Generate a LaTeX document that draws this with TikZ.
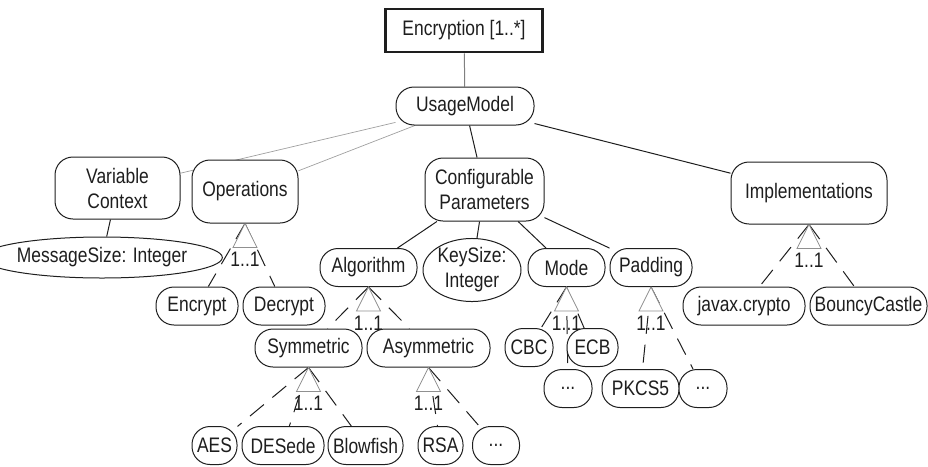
\documentclass[tikz,border=0pt]{standalone}
\usepackage{fontspec}
\setmainfont{Liberation Sans}[FakeStretch=0.83]
\usetikzlibrary{shapes.geometric}
\pgfdeclarelayer{bg}
\pgfsetlayers{bg,main}
\definecolor{ink}{HTML}{1E1E1E}
\definecolor{softline}{HTML}{A0A0A0}
\definecolor{triline}{HTML}{909090}
\begin{document}
\begin{tikzpicture}[x=1pt,y=-1pt,
  every node/.style={font=\fontsize{21}{25}\selectfont, text=ink},
  feat/.style={draw=ink, line width=1pt, fill=white, rounded corners=18pt,
    inner sep=0pt, minimum height=38pt, align=center},
  attr/.style={draw=ink, line width=1pt, fill=white, ellipse, inner sep=0pt, align=center},
  root/.style={draw=ink, line width=2.8pt, fill=white, inner sep=0pt,
    minimum width=157pt, minimum height=43pt},
  link/.style={draw=ink, line width=1pt},
  soft/.style={draw=softline, line width=0.7pt},
  alt/.style={draw=ink, line width=1pt, dash pattern=on 18pt off 11pt},
  tri/.style={draw=triline, line width=0.7pt, fill=white},
  card/.style={inner sep=0pt}
]
\useasboundingbox (0,0) rectangle (928,466);

% root and first level
\node[root] (enc) at (464,30.5) {Encryption [1..*]};
\node[feat, minimum width=138pt] (usage) at (465,106) {UsageModel};
\node[feat, minimum width=125pt, minimum height=62pt] (varctx) at (117.5,188) {Variable\\Context};
\node[feat, minimum width=106pt, minimum height=63pt] (ops) at (245,191.5) {Operations};
\node[feat, minimum width=119pt, minimum height=63pt] (conf) at (484.5,189.5) {Configurable\\Parameters};
\node[feat, minimum width=156pt, minimum height=62pt] (impl) at (809,193) {Implementations};

% second level
\node[attr, minimum width=190pt, minimum height=41pt] (msg) at (102,257.5) {MessageSize: Integer};
\node[feat, minimum width=97pt] (algo) at (368.5,267.5) {Algorithm};
\node[attr, minimum width=98pt, minimum height=55pt] (keysize) at (472,270) {KeySize:\\Integer};
\node[feat, minimum width=77pt] (mode) at (566.5,267.5) {Mode};
\node[feat, minimum width=82pt] (pad) at (651,267.5) {Padding};

% leaves and sub-features
\node[feat, minimum width=82pt] (encr) at (197,306) {Encrypt};
\node[feat, minimum width=82pt] (decr) at (284,306) {Decrypt};
\node[feat, minimum width=122pt] (javax) at (744,306) {javax.crypto};
\node[feat, minimum width=117pt] (bouncy) at (868.5,306) {BouncyCastle};
\node[feat, minimum width=107pt] (sym) at (308.5,348) {Symmetric};
\node[feat, minimum width=123pt] (asym) at (428.5,348) {Asymmetric};
\node[feat, minimum width=48pt] (cbc) at (529,347.5) {CBC};
\node[feat, minimum width=51pt] (ecb) at (592.5,347.5) {ECB};
\node[feat, minimum width=48pt] (modemore) at (568,388.5) {...};
\node[feat, minimum width=77pt] (pkcs) at (640.5,388.5) {PKCS5};
\node[feat, minimum width=48pt] (padmore) at (703,388.5) {...};
\node[feat, minimum width=45pt] (aes) at (214.5,445.5) {AES};
\node[feat, minimum width=82pt] (desede) at (283,445.5) {DESede};
\node[feat, minimum width=75pt] (blow) at (365.5,445.5) {Blowfish};
\node[feat, minimum width=45pt] (rsa) at (440.5,445.5) {RSA};
\node[feat, minimum width=47pt] (asymmore) at (496,445.5) {...};

\begin{pgfonlayer}{bg}
  \draw[link, draw=gray] (enc) -- (usage);
  \draw[soft] (usage) -- (varctx);
  \draw[soft] (usage) -- (ops);
  \draw[link] (usage) -- (conf);
  \draw[link] (usage) -- (impl);
  \draw[link] (varctx) -- (msg);
  \draw[link] (conf) -- (algo);
  \draw[link] (conf) -- (keysize);
  \draw[link] (conf) -- (mode);
  \draw[link] (conf) -- (pad);
  % alternative groups
  \draw[alt] (ops.south) -- (encr);
  \draw[alt] (ops.south) -- (decr);
  \draw[alt] (impl.south) -- (javax);
  \draw[alt] (impl.south) -- (bouncy);
  \draw[alt] (algo.south) -- (sym);
  \draw[alt] (algo.south) -- (asym);
  \draw[alt] (mode.south) -- (cbc);
  \draw[alt] (mode.south) -- (ecb);
  \draw[alt] (mode.south) -- (modemore);
  \draw[alt] (pad.south) -- (pkcs);
  \draw[alt] (pad.south) -- (padmore);
  \draw[alt] (sym.south) -- (aes);
  \draw[alt] (sym.south) -- (desede);
  \draw[alt] (sym.south) -- (blow);
  \draw[alt] (asym.south) -- (rsa);
  \draw[alt] (asym.south) -- (asymmore);
\end{pgfonlayer}

% group markers with cardinality
\foreach \p in {ops,impl,algo,mode,pad,sym,asym}{
  \draw[tri] (\p.south) -- ++(-12,24) -- ++(24,0) -- cycle;
  \path (\p.south) ++(0,36) node[card] (\p-card) {1..1};
}
\end{tikzpicture}
\end{document}
